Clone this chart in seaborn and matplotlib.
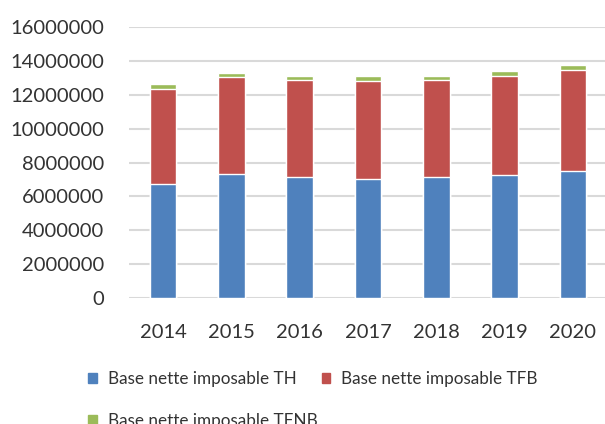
import pandas as pd
import numpy as np
import matplotlib
matplotlib.use("Agg")
import matplotlib.pyplot as plt
import seaborn as sns
from matplotlib.patches import Patch

# values
years = ['2014', '2015', '2016', '2017', '2018', '2019', '2020']
base_th = [6760000, 7330000, 7120000, 7010000, 7150000, 7250000, 7470000]
base_tfb = [5560000, 5710000, 5770000, 5800000, 5700000, 5870000, 6020000]
base_tfnb = [290000, 240000, 230000, 270000, 270000, 270000, 280000]
labels = ['Base nette imposable TH', 'Base nette imposable TFB', 'Base nette imposable TFNB']
colors = ['#4F81BD', '#C0504D', '#9BBB59']

df = pd.DataFrame({'annee': years, 'TH': base_th, 'TFB': base_tfb, 'TFNB': base_tfnb})
df['cum_tfb'] = df['TH'] + df['TFB']
df['cum_tfnb'] = df['cum_tfb'] + df['TFNB']

sns.set_style('white')
plt.rcParams['font.family'] = ['Lato', 'DejaVu Sans']

fig = plt.figure(figsize=(6.05, 4.24), dpi=100)
ax = fig.add_axes([129/605, 126/424, 478/605, 271/424])

# stacked: draw the totals first, then the lower pieces on top
sns.barplot(data=df, x='annee', y='cum_tfnb', color=colors[2], width=0.39, ax=ax, saturation=1, zorder=3)
sns.barplot(data=df, x='annee', y='cum_tfb', color=colors[1], width=0.39, ax=ax, saturation=1, zorder=3)
sns.barplot(data=df, x='annee', y='TH', color=colors[0], width=0.39, ax=ax, saturation=1, zorder=3)

ax.set_ylim(0, 16000000)
ax.set_xlim(-0.5, 6.5)
ax.set_yticks(np.arange(0, 16000001, 2000000))
ax.yaxis.set_major_formatter(matplotlib.ticker.FuncFormatter(lambda v, p: '%d' % v))
ax.grid(axis='y', color='#D9D9D9', linewidth=1.5, zorder=0)
ax.set_axisbelow(True)
for s in ax.spines.values():
    s.set_visible(False)
ax.tick_params(axis='both', length=0, labelsize=14.5, colors='#333333')
ax.tick_params(axis='y', pad=18)
ax.tick_params(axis='x', pad=19)
ax.set_xlabel('')
ax.set_ylabel('')

handles = [Patch(color=colors[0]), Patch(color=colors[2]), Patch(color=colors[1])]
names = [labels[0], labels[2], labels[1]]
fig.legend(handles, names, ncol=2, loc='upper left', bbox_to_anchor=(88/605, 1 - 371/424),
           frameon=False, fontsize=12.3, handlelength=0.5, handleheight=0.5, handletextpad=0.65,
           columnspacing=0.25, labelspacing=1.5, borderpad=0, borderaxespad=0,
           labelcolor='#333333')

plt.savefig('out.png', dpi=100)
